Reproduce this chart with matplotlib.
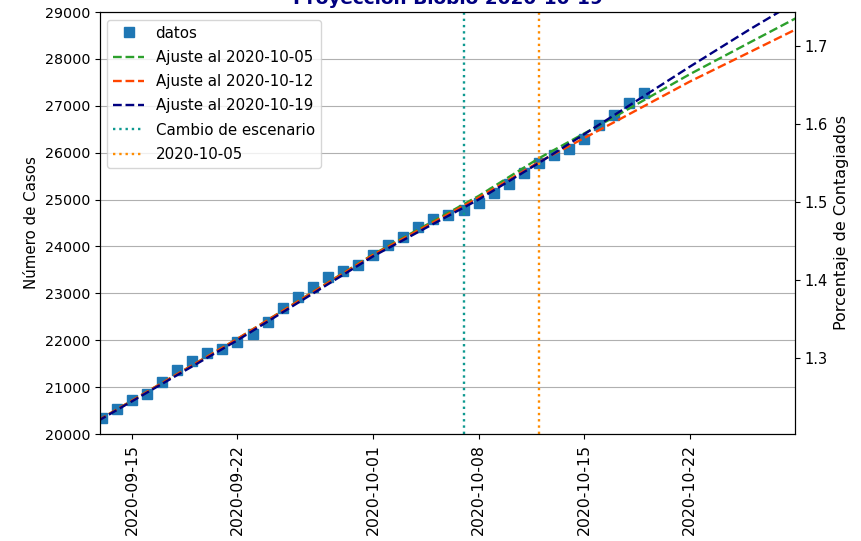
import matplotlib
matplotlib.use("Agg")
import matplotlib.pyplot as plt
import matplotlib.dates as mdates
import numpy as np
import pandas as pd

# ---- data ----
data_dates = pd.date_range("2020-09-13", "2020-10-19", freq="D")
data_cases = [20335, 20527, 20725, 20853, 21115, 21365, 21557, 21721, 21806, 21968,
              22126, 22394, 22680, 22928, 23128, 23342, 23483, 23604, 23817, 24031,
              24208, 24421, 24578, 24670, 24777, 24933, 25133, 25331, 25573, 25773,
              25950, 26072, 26285, 26590, 26803, 27066, 27279]

fit_dates = pd.to_datetime(["2020-09-12 18:00", "2020-09-22 00:00", "2020-10-01 00:00",
                            "2020-10-08 00:00", "2020-10-12 00:00", "2020-10-17 00:00",
                            "2020-10-22 00:00", "2020-10-26 00:00", "2020-10-29 06:00"],
                           format="%Y-%m-%d %H:%M")
fit_1005 = [20290, 22030, 23830, 25076, 25880, 26760, 27670, 28350, 28900]
fit_1012 = [20290, 22030, 23820, 25040, 25800, 26650, 27513, 28145, 28660]
fit_1019 = [20280, 22000, 23790, 25000, 25780, 26800, 27830, 28630, 29250]

cambio_date = pd.Timestamp("2020-10-07")
ref_date = pd.Timestamp("2020-10-12")
poblacion = 1663696

title = "Proyección Biobío 2020-10-19"

fig = plt.figure(figsize=(8.62, 5.41), dpi=100)
ax = fig.add_axes([100/862, 1-434/541, 695/862, 422/541])

ax.plot(data_dates, data_cases, "s", color="tab:blue", ms=6.8, label="datos")
ax.plot(fit_dates, fit_1005, "--", color="tab:green", lw=1.7, label="Ajuste al 2020-10-05")
ax.plot(fit_dates, fit_1012, "--", color="orangered", lw=1.7, label="Ajuste al 2020-10-12")
ax.plot(fit_dates, fit_1019, "--", color="navy", lw=1.7, label="Ajuste al 2020-10-19")
ax.axvline(cambio_date, ls=":", color="#0e9990", lw=1.7, label="Cambio de escenario")
ax.axvline(ref_date, ls=":", color="darkorange", lw=1.7, label="2020-10-05")

ax.set_xlim(pd.Timestamp("2020-09-12 21:00"), pd.Timestamp("2020-10-29"))
ax.set_ylim(20000, 29000)
ax.xaxis.set_major_locator(mdates.DayLocator(bymonthday=[1, 8, 15, 22]))
ax.xaxis.set_major_formatter(mdates.DateFormatter("%Y-%m-%d"))
plt.setp(ax.get_xticklabels(), rotation=90, fontsize=11.3)
ax.tick_params(axis="y", labelsize=10.3)
ax.grid(axis="y")
ax.set_ylabel("Número de Casos", fontsize=10.8)
ax.set_title(title, color="navy", fontweight="bold", fontsize=13.3)
ax.legend(loc="upper left", fontsize=10.8, labelspacing=0.62)

ax2 = ax.twinx()
ax2.set_ylim(20000/poblacion*100, 29000/poblacion*100)
ax2.set_yticks([1.3, 1.4, 1.5, 1.6, 1.7])
ax2.tick_params(axis="y", labelsize=10.5)
ax2.set_ylabel("Porcentaje de Contagiados", fontsize=11.5)

fig.savefig("out.png", dpi=100)
